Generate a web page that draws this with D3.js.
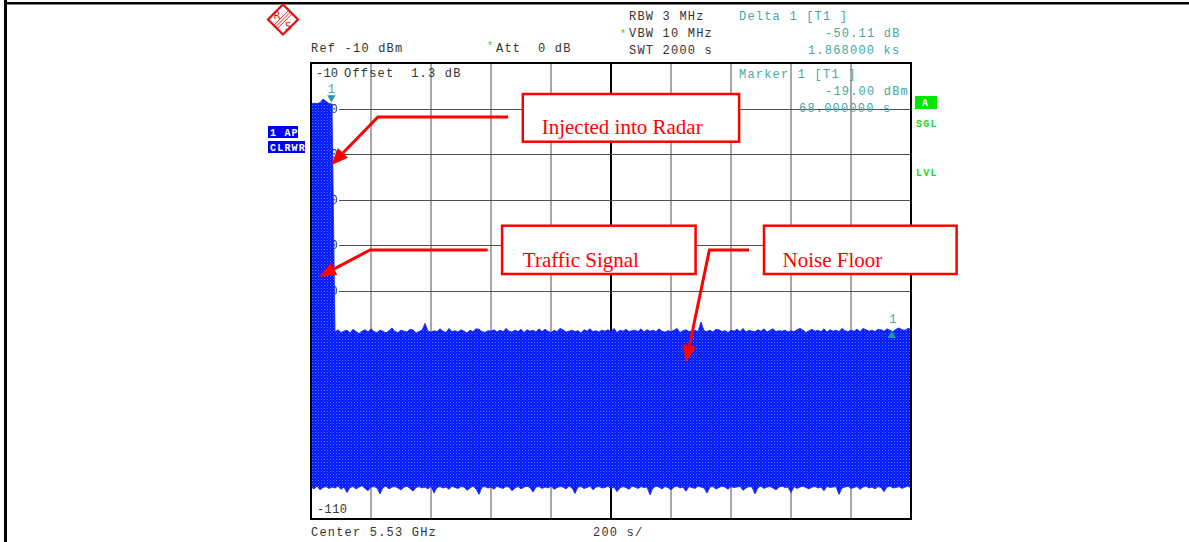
<!DOCTYPE html>
<html>
<head>
<meta charset="utf-8">
<script src="https://cdn.jsdelivr.net/npm/d3@7"></script>
<style>
html, body { margin: 0; padding: 0; background: #fff; }
svg { display: block; }
text { white-space: pre; }
</style>
</head>
<body>
<div id="chart"></div>
<script>
// sweep: 0 .. 2000 s, one trace point every 10 s
var sweepStep = 10;

// upper envelope of the trace (dBm)
var traceTop = [
  -19.0,-18.8,-18.9,-18.7,-17.9,-18.4,-18.9,-19.0,
  -69.0,-68.5,-69.1,-68.8,-68.6,-69.2,-68.4,-68.9,-69.3,-68.8,
  -68.5,-69.0,-68.3,-68.9,-69.1,-68.6,-68.8,-69.2,-68.7,-68.1,
  -68.9,-69.1,-68.6,-68.8,-69.0,-68.4,-68.5,-69.2,-68.9,-68.6,
  -67.1,-68.8,-69.0,-68.7,-68.9,-68.3,-68.8,-69.1,-68.2,-68.9,
  -68.7,-69.0,-68.5,-68.8,-69.2,-68.6,-68.9,-68.3,-68.4,-68.9,
  -69.1,-68.7,-68.8,-68.5,-69.0,-68.6,-68.9,-68.2,-68.8,-69.0,
  -68.6,-68.9,-68.4,-69.1,-68.5,-68.8,-68.6,-69.0,-68.3,-68.9,
  -68.4,-68.8,-69.1,-68.6,-68.9,-68.2,-68.5,-69.0,-68.8,-68.6,
  -68.9,-68.7,-69.2,-68.5,-68.8,-68.3,-68.9,-68.7,-69.0,-68.6,
  -68.8,-68.5,-68.9,-68.2,-69.1,-68.6,-68.8,-68.4,-68.9,-68.7,
  -68.6,-68.9,-68.3,-69.0,-68.5,-68.8,-68.6,-68.9,-68.3,-68.8,
  -69.0,-68.7,-68.9,-68.6,-68.2,-69.1,-68.7,-68.5,-68.9,-68.8,
  -68.6,-68.9,-66.8,-68.7,-68.9,-68.6,-69.0,-68.4,-68.5,-68.9,
  -68.7,-69.1,-68.6,-68.8,-68.4,-68.9,-68.2,-69.0,-68.6,-68.8,
  -68.9,-68.5,-68.8,-68.3,-69.0,-68.6,-68.3,-68.9,-68.7,-68.8,
  -68.6,-69.0,-68.7,-68.9,-68.5,-68.2,-68.6,-69.1,-68.7,-68.4,
  -68.8,-68.6,-68.9,-68.3,-69.0,-68.5,-68.8,-68.6,-68.9,-68.2,
  -68.7,-68.9,-68.6,-68.8,-68.4,-68.9,-68.2,-68.5,-68.8,-68.6,
  -68.9,-68.4,-68.5,-68.8,-68.3,-68.6,-68.9,-68.4,-68.1,-68.5,
  -68.6,-68.2,-68.4
];

// lower envelope of the trace (dBm)
var traceBottom = [
  -103.0,-103.4,-102.8,-103.6,-103.1,-102.9,-103.3,-103.0,
  -103.2,-102.8,-103.5,-103.0,-104.2,-103.1,-102.9,-103.4,-103.0,-102.7,
  -103.3,-103.8,-103.0,-102.9,-103.2,-104.5,-103.1,-102.8,-103.4,-103.0,
  -102.9,-103.2,-103.6,-103.0,-102.8,-103.3,-103.9,-103.1,-102.9,-103.2,
  -103.0,-103.4,-102.8,-104.3,-103.1,-102.9,-103.2,-103.0,-103.5,-102.8,
  -103.1,-103.3,-102.9,-103.0,-103.7,-103.2,-102.8,-103.4,-104.6,-103.0,
  -102.9,-103.2,-103.0,-103.5,-102.8,-103.1,-103.3,-102.9,-103.0,-103.8,
  -103.2,-102.9,-103.4,-103.0,-102.8,-103.1,-104.1,-103.0,-102.9,-103.3,
  -103.0,-103.2,-102.8,-103.5,-103.1,-102.9,-103.0,-103.4,-102.8,-103.2,
  -104.4,-103.0,-102.9,-103.3,-103.1,-102.8,-103.6,-103.0,-102.9,-103.2,
  -103.1,-102.8,-103.4,-103.0,-104.0,-103.2,-102.9,-103.1,-103.5,-102.8,
  -103.0,-103.3,-102.9,-103.1,-103.0,-104.7,-103.2,-102.8,-103.0,-103.4,
  -102.9,-103.1,-103.6,-103.0,-102.8,-103.2,-103.0,-103.9,-102.9,-103.1,
  -103.3,-102.8,-103.0,-103.2,-104.3,-103.0,-102.9,-103.4,-103.1,-102.8,
  -103.0,-103.5,-102.9,-103.1,-103.0,-102.8,-103.7,-103.2,-102.9,-103.0,
  -104.5,-103.1,-102.8,-103.3,-103.0,-102.9,-103.2,-103.6,-103.0,-102.8,
  -103.1,-103.0,-104.2,-102.9,-103.3,-103.0,-102.8,-103.1,-103.4,-103.0,
  -102.9,-103.2,-103.0,-103.8,-102.8,-103.1,-103.0,-102.9,-104.6,-103.2,
  -103.0,-102.8,-103.3,-103.1,-102.9,-103.5,-103.0,-102.8,-103.2,-103.0,
  -103.4,-102.9,-103.1,-104.0,-103.0,-102.8,-103.2,-103.1,-102.9,-103.3,
  -103.0,-102.8,-103.2
];

var xTicks = [200, 400, 600, 800, 1000, 1200, 1400, 1600, 1800];
var yTicks = [-20, -30, -40, -50, -60, -70, -80, -90, -100];
var yTickLabels = ["-20", "-30", "-40", "-50", "-60", "-70", "-80", "-90", "-100"];

var markerTimes = [68, 1936];
var markerLevels = [-19.00, -69.11];

// callouts, placed in (s, dBm)
var calloutTexts = ["Injected into Radar", "Traffic Signal", "Noise Floor"];
var calloutBoxes = [[706, 1427, -16.8, -27.26], [637, 1282, -45.68, -56.27], [1510, 2152, -45.68, -56.27]];
var calloutTextPos = [[769, -25.57], [706, -54.67], [1572, -54.67]];
var calloutArrows = [
  [[657, -21.84], [223, -21.84], [67, -32.4]],
  [[589, -51.0], [197, -51.0], [27, -56.9]],
  [[1460, -51.0], [1328, -51.0], [1250, -75.6]]
];

var W = 1189, H = 542;
var mono = "'Liberation Mono', 'DejaVu Sans Mono', monospace";
var dark = "#333";
var teal = "#45a6a6";
var green = "#1fd81f";

var svg = d3.select("#chart").append("svg")
    .attr("width", W)
    .attr("height", H);

svg.append("rect").attr("width", W).attr("height", H).attr("fill", "#fff");

// page edges
svg.append("rect").attr("x", 4).attr("y", 2).attr("width", W - 4).attr("height", 2.5).attr("fill", "#000");
svg.append("rect").attr("x", 4).attr("y", 0).attr("width", 3).attr("height", H).attr("fill", "#000");

var x = d3.scaleLinear().domain([0, 2000]).range([311, 911]);
var y = d3.scaleLinear().domain([-110, -10]).range([519, 63]);

var defs = svg.append("defs");
var pat = defs.append("pattern")
    .attr("id", "dither")
    .attr("patternUnits", "userSpaceOnUse")
    .attr("width", 3)
    .attr("height", 3);
pat.append("rect").attr("width", 3).attr("height", 3).attr("fill", "#0514ff");
pat.append("rect").attr("x", 0).attr("y", 0).attr("width", 1).attr("height", 1).attr("fill", "#4a86ff");
pat.append("rect").attr("x", 1.5).attr("y", 1.5).attr("width", 1).attr("height", 1).attr("fill", "#2f5cff");

defs.append("clipPath").attr("id", "screen")
  .append("rect")
    .attr("x", x(0)).attr("y", y(-10))
    .attr("width", x(2000) - x(0)).attr("height", y(-110) - y(-10));

// grid
svg.selectAll(".vgrid")
    .data(xTicks)
    .enter().append("line")
    .attr("class", "vgrid")
    .attr("x1", function(d) { return x(d); })
    .attr("x2", function(d) { return x(d); })
    .attr("y1", y(-10))
    .attr("y2", y(-110))
    .attr("stroke", function(d) { return d === 1000 ? "#000" : "#505050"; })
    .attr("stroke-width", function(d) { return d === 1000 ? 2 : 1; });

svg.selectAll(".hgrid")
    .data(yTicks)
    .enter().append("line")
    .attr("class", "hgrid")
    .attr("x1", x(0))
    .attr("x2", x(2000))
    .attr("y1", function(d) { return Math.round(y(d)) + 0.5; })
    .attr("y2", function(d) { return Math.round(y(d)) + 0.5; })
    .attr("stroke", "#505050")
    .attr("stroke-width", 1);

// level labels on the grid lines
var lab = svg.append("g").attr("clip-path", "url(#screen)")
  .selectAll(".ylab")
    .data(yTicks)
    .enter().append("g")
    .attr("class", "ylab");
lab.append("rect")
    .attr("x", function(d, i) { return 339 - yTickLabels[i].length * 8.4; })
    .attr("y", function(d) { return y(d) - 6; })
    .attr("width", function(d, i) { return yTickLabels[i].length * 8.4; })
    .attr("height", 12)
    .attr("fill", "#fff");
lab.append("text")
    .attr("x", function(d, i) { return 339 - yTickLabels[i].length * 8.4; })
    .attr("y", function(d) { return y(d) + 4; })
    .attr("font-family", mono)
    .attr("font-size", 12)
    .attr("letter-spacing", 1.2)
    .attr("fill", dark)
    .text(function(d, i) { return yTickLabels[i]; });

// trace
var area = d3.area()
    .x(function(d, i) { return x(i * sweepStep); })
    .y0(function(d, i) { return y(traceBottom[i]); })
    .y1(function(d) { return y(d); });

svg.append("path")
    .datum(traceTop)
    .attr("d", area)
    .attr("fill", "url(#dither)")
    .attr("stroke", "#0a20ff")
    .attr("stroke-width", 0.8);

// markers
svg.append("path")
    .attr("d", d3.symbol().type(d3.symbolTriangle).size(30))
    .attr("transform", "translate(" + x(markerTimes[0]) + "," + (y(markerLevels[0]) - 6.5) + ") rotate(180)")
    .attr("fill", "#1d9a9a");
svg.append("text")
    .attr("x", x(markerTimes[0]))
    .attr("y", y(markerLevels[0]) - 11)
    .attr("text-anchor", "middle")
    .attr("font-family", mono)
    .attr("font-size", 12)
    .attr("fill", teal)
    .text("1");

svg.append("path")
    .attr("d", d3.symbol().type(d3.symbolTriangle).size(30))
    .attr("transform", "translate(" + x(markerTimes[1]) + "," + (y(markerLevels[1]) + 3) + ")")
    .attr("fill", "#1d9a9a");
svg.append("text")
    .attr("x", x(markerTimes[1]) + 1)
    .attr("y", y(markerLevels[1]) - 10)
    .attr("text-anchor", "middle")
    .attr("font-family", mono)
    .attr("font-size", 12)
    .attr("fill", teal)
    .text("1");

// frame
svg.append("rect")
    .attr("x", x(0))
    .attr("y", y(-10))
    .attr("width", x(2000) - x(0))
    .attr("height", y(-110) - y(-10))
    .attr("fill", "none")
    .attr("stroke", "#000")
    .attr("stroke-width", 2);

function label(tx, ty, str, color, opts) {
    opts = opts || {};
    return svg.append("text")
        .attr("x", tx)
        .attr("y", ty)
        .attr("font-family", mono)
        .attr("font-size", opts.size || 12)
        .attr("font-weight", opts.weight || "normal")
        .attr("letter-spacing", opts.ls === undefined ? 1.2 : opts.ls)
        .attr("fill", color)
        .text(str);
}

// header
label(311, 52, "Ref -10 dBm", dark);
label(487, 49, "*", green, {size: 10, ls: 0});
label(496, 52, "Att  0 dB", dark);
label(629, 20, "RBW 3 MHz", dark);
label(620, 37, "*", green, {size: 10, ls: 0});
label(629, 37, "VBW 10 MHz", dark);
label(629, 54, "SWT 2000 s", dark);
label(739, 20, "Delta 1 [T1 ]", teal);
label(825, 37, "-50.11 dB", teal);
label(808, 54, "1.868000 ks", teal);

// inside the screen
label(316, 77, "-10", dark, {ls: 0.2});
label(344, 77, "Offset  1.3 dB", dark);
label(317, 513, "-110", dark, {ls: 0.4});
label(739, 78, "Marker 1 [T1 ]", teal);
label(825, 95, "-19.00 dBm", teal);
label(799, 112, "68.000000 s", teal);

// footer
label(311, 536, "Center 5.53 GHz", dark);
label(593, 536, "200 s/", dark);

// trace info boxes on the left
svg.append("rect").attr("x", 268).attr("y", 126).attr("width", 30).attr("height", 12).attr("fill", "#0000f0");
label(270, 135.5, "1 AP", "#fff", {size: 10, weight: "bold", ls: 1.2});
svg.append("rect").attr("x", 268).attr("y", 141).attr("width", 37).attr("height", 12).attr("fill", "#0000f0");
label(270, 150.5, "CLRWR", "#fff", {size: 10, weight: "bold", ls: 1.2});

// right side status
svg.append("rect").attr("x", 915).attr("y", 96).attr("width", 22).attr("height", 13).attr("fill", "#00e600");
label(922, 106, "A", "#fff", {size: 10, weight: "bold", ls: 0});
label(916, 127, "SGL", green, {size: 10, weight: "bold", ls: 1.2});
label(916, 176, "LVL", green, {size: 10, weight: "bold", ls: 1.2});

// R&S logo
var logo = svg.append("g").attr("transform", "translate(283,19.5)");
logo.append("path")
    .attr("d", "M0,-15 L15,0 L0,15 L-15,0 Z")
    .attr("fill", "none")
    .attr("stroke", "#e01010")
    .attr("stroke-width", 2.2);
[-2.4, 0, 2.4].forEach(function(o) {
    logo.append("line")
        .attr("x1", 7.5 + o * 0.7).attr("y1", -7.5 + o * 0.7)
        .attr("x2", -7.5 + o * 0.7).attr("y2", 7.5 + o * 0.7)
        .attr("stroke", "#e01010")
        .attr("stroke-width", 0.9);
});
logo.append("text").attr("x", -9.5).attr("y", -0.5).attr("font-family", "'DejaVu Sans', sans-serif")
    .attr("font-size", 10).attr("fill", "#e01010").text("R");
logo.append("text").attr("x", 2).attr("y", 10).attr("font-family", "'DejaVu Sans', sans-serif")
    .attr("font-size", 10).attr("fill", "#e01010").text("S");

// callouts
var red = "#ff0000";
calloutTexts.forEach(function(t, i) {
    var b = calloutBoxes[i];
    svg.append("rect")
        .attr("x", x(b[0]))
        .attr("y", y(b[2]))
        .attr("width", x(b[1]) - x(b[0]))
        .attr("height", y(b[3]) - y(b[2]))
        .attr("fill", "#fff")
        .attr("stroke", red)
        .attr("stroke-width", 2.5);
    svg.append("text")
        .attr("x", x(calloutTextPos[i][0]))
        .attr("y", y(calloutTextPos[i][1]))
        .attr("font-family", "'Liberation Serif', 'Times New Roman', serif")
        .attr("font-size", 21)
        .attr("fill", red)
        .text(t);

    var pts = calloutArrows[i].map(function(p) { return [x(p[0]), y(p[1])]; });
    var n = pts.length;
    var tip = pts[n - 1], prev = pts[n - 2];
    var dx = tip[0] - prev[0], dy = tip[1] - prev[1];
    var len = Math.sqrt(dx * dx + dy * dy);
    var ux = dx / len, uy = dy / len;
    var hl = 17, hw = 7;
    var base = [tip[0] - ux * hl, tip[1] - uy * hl];
    var linePts = pts.slice(0, n - 1).concat([base]);
    svg.append("path")
        .attr("d", d3.line()(linePts))
        .attr("fill", "none")
        .attr("stroke", red)
        .attr("stroke-width", 3);
    svg.append("path")
        .attr("d", d3.line()([tip,
            [base[0] - uy * hw, base[1] + ux * hw],
            [base[0] + uy * hw, base[1] - ux * hw]]) + "Z")
        .attr("fill", red);
});
</script>
</body>
</html>
